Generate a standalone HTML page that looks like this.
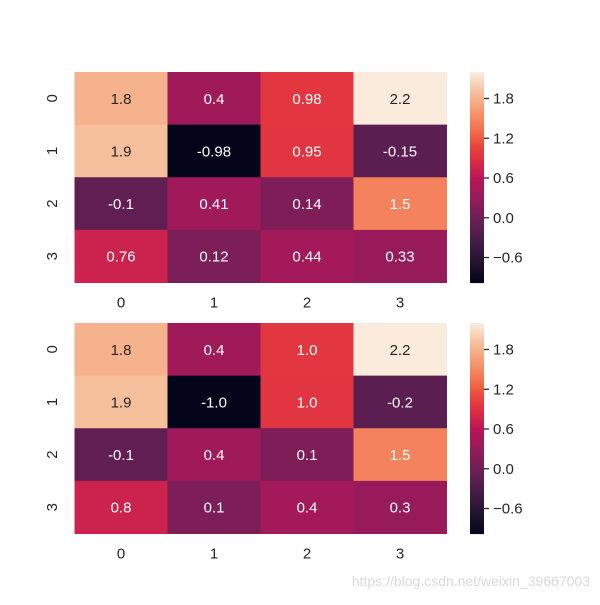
<!DOCTYPE html>
<html><head><meta charset="utf-8"><style>
body{margin:0;background:#fff;}
svg text{font-family:"Liberation Sans",Arial,sans-serif;}
</style></head><body>
<svg id="chart" width="600" height="600" xmlns="http://www.w3.org/2000/svg">
<text x="590" y="586" text-anchor="end" font-size="14" fill="#d9d9d9">https://blog.csdn.net/weixin_39667003</text>
</svg>
<script>
const rowLabels = ["0","1","2","3"];
const colLabels = ["0","1","2","3"];
const values = [
  [1.81, 0.404, 0.978, 2.2],
  [1.9, -0.977, 0.953, -0.151],
  [-0.103, 0.41, 0.144, 1.47],
  [0.761, 0.121, 0.443, 0.333]
];
const cbTicks = [1.8, 1.2, 0.6, 0.0, -0.6];
const cbTickLabels = ["1.8","1.2","0.6","0.0","\u22120.6"];

const NS="http://www.w3.org/2000/svg";
const svg=document.getElementById('chart');
const flat=values.flat();
const vmin=Math.min(...flat), vmax=Math.max(...flat);
const stops=[[0,[3,5,26]],[0.1,[34,19,49]],[0.2,[69,28,71]],[0.3,[106,31,86]],[0.4,[146,28,91]],[0.5,[185,22,87]],[0.6,[224,50,66]],[0.65,[232,67,62]],[0.7,[240,96,67]],[0.8,[244,145,104]],[0.9,[246,188,152]],[1,[250,235,221]]];
function cmap(t){t=Math.max(0,Math.min(1,t));for(let i=1;i<stops.length;i++){if(t<=stops[i][0]){const a=stops[i-1],b=stops[i];const f=(t-a[0])/(b[0]-a[0]);return a[1].map((c,k)=>Math.round(c+(b[1][k]-c)*f));}}return stops[stops.length-1][1];}
function relLum(c){const l=c.map(x=>{x/=255;return x<=0.03928?x/12.92:Math.pow((x+0.055)/1.055,2.4);});return 0.2126*l[0]+0.7152*l[1]+0.0722*l[2];}
function mk(tag,attrs,txt){const e=document.createElementNS(NS,tag);for(const k in attrs)e.setAttribute(k,attrs[k]);if(txt!==undefined)e.textContent=txt;svg.appendChild(e);return e;}
const fmts=[v=>parseFloat(v.toPrecision(2)).toString(), v=>v.toFixed(1)];
const L=74.5,R=446.5,cbx=470,cbw=14;
[[72,282.5],[323,533.5]].forEach(([T,B],p)=>{
  const cw=(R-L)/colLabels.length, rh=(B-T)/rowLabels.length;
  const y=v=>T+(vmax-v)/(vmax-vmin)*(B-T);
  values.forEach((row,i)=>row.forEach((v,j)=>{
    const c=cmap((v-vmin)/(vmax-vmin));
    const r=mk('rect',{x:L+j*cw,y:T+i*rh,width:cw+0.5,height:rh+0.5,fill:`rgb(${c})`});
    
    
    const t=mk('text',{x:L+(j+0.5)*cw,y:T+(i+0.5)*rh+5.5,'text-anchor':'middle','font-size':15,fill:relLum(c)>0.408?'#262626':'#fff'},fmts[p](v));
    
    
  }));
  rowLabels.forEach((l,i)=>{const cy=T+(i+0.5)*rh;const t=mk('text',{x:0,y:0,transform:`translate(57,${cy}) rotate(-90)`,'text-anchor':'middle','font-size':15,fill:'#262626'},l);
    });
  colLabels.forEach((l,j)=>{const t=mk('text',{x:L+(j+0.5)*cw,y:B+25,'text-anchor':'middle','font-size':15,fill:'#262626'},l);
    });
  const N=100;
  for(let k=0;k<N;k++){const c=cmap(1-k/N);const r=mk('rect',{x:cbx,y:T+k*(B-T)/N,width:cbw,height:(B-T)/N+0.6,fill:`rgb(${c})`});
    }
  cbTicks.forEach((v,k)=>{const yy=y(v);
    const ln=mk('line',{x1:cbx+cbw,x2:cbx+cbw+5,y1:yy,y2:yy,stroke:'#262626','stroke-width':1.3});
    
    const t=mk('text',{x:cbx+cbw+9,y:yy+5,'font-size':15,fill:'#262626'},cbTickLabels[k]);
    });
});
</script>
</body></html>
